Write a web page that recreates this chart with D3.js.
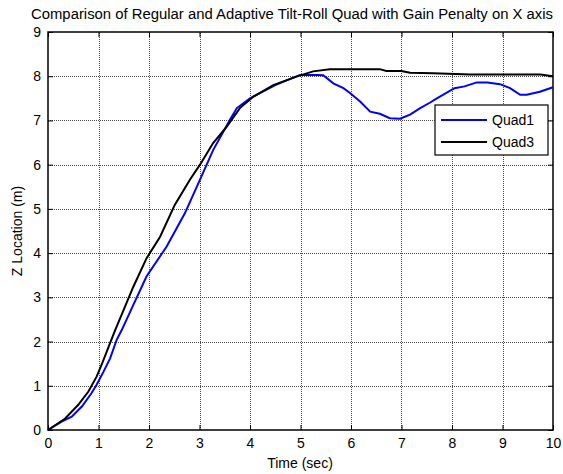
<!DOCTYPE html>
<html>
<head>
<meta charset="utf-8">
<script src="https://cdn.jsdelivr.net/npm/d3@7"></script>
<style>
  body { margin: 0; background: #fff; }
  svg { display: block; font-family: "Liberation Sans", Arial, sans-serif; }
</style>
</head>
<body>
<div id="chart"></div>
<script>
const quad1Time = [0, 0.27, 0.47, 0.67, 0.86, 0.96, 1.1, 1.23, 1.36, 1.46, 1.69, 1.95, 2.35, 2.71, 3.01, 3.27, 3.6, 3.74, 4.0, 4.5, 4.99, 5.32, 5.45, 5.65, 5.85, 5.98, 6.18, 6.38, 6.57, 6.77, 6.97, 7.17, 7.37, 7.56, 7.7, 8.05, 8.25, 8.49, 8.7, 8.95, 9.15, 9.35, 9.48, 9.74, 10];
const quad1Z = [0, 0.19, 0.3, 0.53, 0.83, 1.02, 1.32, 1.62, 2.04, 2.26, 2.83, 3.47, 4.15, 4.9, 5.66, 6.33, 7.01, 7.28, 7.5, 7.8, 8.03, 8.03, 8.02, 7.84, 7.73, 7.62, 7.43, 7.2, 7.15, 7.05, 7.04, 7.13, 7.28, 7.4, 7.5, 7.73, 7.77, 7.86, 7.86, 7.82, 7.73, 7.58, 7.58, 7.65, 7.75];

const quad3Time = [0, 0.34, 0.6, 0.8, 0.96, 1.06, 1.19, 1.33, 1.43, 1.69, 1.95, 2.22, 2.51, 2.81, 3.01, 3.27, 3.54, 3.8, 4.07, 4.46, 4.92, 5.25, 5.58, 6.57, 6.7, 7.0, 7.17, 7.63, 8.36, 9.75, 10];
const quad3Z = [0, 0.26, 0.57, 0.87, 1.2, 1.47, 1.85, 2.26, 2.53, 3.24, 3.88, 4.37, 5.09, 5.66, 6.0, 6.49, 6.86, 7.28, 7.54, 7.8, 7.99, 8.11, 8.16, 8.16, 8.12, 8.12, 8.08, 8.07, 8.04, 8.04, 8.0];

const xTicks = [0, 1, 2, 3, 4, 5, 6, 7, 8, 9, 10];
const yTicks = [0, 1, 2, 3, 4, 5, 6, 7, 8, 9];

const series = [
    { name: "Quad1", color: "#0000ff", t: quad1Time, z: quad1Z },
    { name: "Quad3", color: "#000000", t: quad3Time, z: quad3Z }
];

const width = 563, height = 474;
const margin = { top: 32, right: 10, bottom: 44, left: 48 };

const x = d3.scaleLinear().domain([0, 10]).range([margin.left, width - margin.right]);
const y = d3.scaleLinear().domain([0, 9]).range([height - margin.bottom, margin.top]);

const svg = d3.select("#chart").append("svg")
    .attr("width", width)
    .attr("height", height);

// grid
const grid = svg.append("g").attr("stroke", "#000").attr("stroke-width", 1)
    .attr("stroke-dasharray", "1,1").attr("stroke-opacity", 0.7);
grid.selectAll(".gx").data(xTicks.slice(1, -1)).join("line")
    .attr("x1", d => Math.round(x(d)) + 0.5).attr("x2", d => Math.round(x(d)) + 0.5)
    .attr("y1", y(0)).attr("y2", y(9));
grid.selectAll(".gy").data(yTicks.slice(1, -1)).join("line")
    .attr("y1", d => Math.round(y(d)) + 0.5).attr("y2", d => Math.round(y(d)) + 0.5)
    .attr("x1", x(0)).attr("x2", x(10));

// axes with inward ticks
const xAxis = d3.axisBottom(x).tickValues(xTicks).tickSize(-5).tickPadding(8);
const yAxis = d3.axisLeft(y).tickValues(yTicks).tickSize(-5).tickPadding(7);

const gx = svg.append("g").attr("transform", `translate(0,${y(0)})`).call(xAxis);
const gy = svg.append("g").attr("transform", `translate(${x(0)},0)`).call(yAxis);
[gx, gy].forEach(g => {
    g.select(".domain").remove();
    g.selectAll("text").attr("font-size", 14).attr("fill", "#000")
        .attr("font-family", "'Liberation Sans', Arial, sans-serif");
});

// top/right ticks
svg.append("g").call(d3.axisTop(x).tickValues(xTicks).tickSize(-5).tickFormat(""))
    .attr("transform", `translate(0,${y(9)})`).select(".domain").remove();
svg.append("g").call(d3.axisRight(y).tickValues(yTicks).tickSize(-5).tickFormat(""))
    .attr("transform", `translate(${x(10)},0)`).select(".domain").remove();

// box
svg.append("rect")
    .attr("x", x(0)).attr("y", y(9))
    .attr("width", x(10) - x(0)).attr("height", y(0) - y(9))
    .attr("fill", "none").attr("stroke", "#000").attr("stroke-width", 1.5);

// lines
const line = d3.line().x(d => x(d[0])).y(d => y(d[1]));
svg.append("g").selectAll("path").data(series).join("path")
    .attr("d", s => line(s.t.map((t, i) => [t, s.z[i]])))
    .attr("fill", "none")
    .attr("stroke", s => s.color)
    .attr("stroke-width", 2);

// legend
const lg = svg.append("g").attr("transform", "translate(435,105)");
lg.append("rect").attr("width", 113).attr("height", 50)
    .attr("fill", "#fff").attr("stroke", "#000").attr("stroke-width", 1.2);
series.forEach((s, i) => {
    const yy = 15 + i * 22;
    lg.append("line").attr("x1", 6).attr("x2", 52).attr("y1", yy).attr("y2", yy)
        .attr("stroke", s.color).attr("stroke-width", 2);
    lg.append("text").attr("x", 57).attr("y", yy + 5).attr("font-size", 14).text(s.name);
});

// titles
svg.append("text").attr("x", 292).attr("y", 19).attr("text-anchor", "middle")
    .attr("font-size", 14).attr("textLength", 522).attr("lengthAdjust", "spacingAndGlyphs")
    .text("Comparison of Regular and Adaptive Tilt-Roll Quad with Gain Penalty on X axis");
svg.append("text").attr("x", 300).attr("y", 468).attr("text-anchor", "middle")
    .attr("font-size", 14).text("Time (sec)");
svg.append("text").attr("transform", `translate(22,${(y(0) + y(9)) / 2}) rotate(-90)`)
    .attr("text-anchor", "middle").attr("font-size", 14).text("Z Location (m)");
</script>
</body>
</html>
